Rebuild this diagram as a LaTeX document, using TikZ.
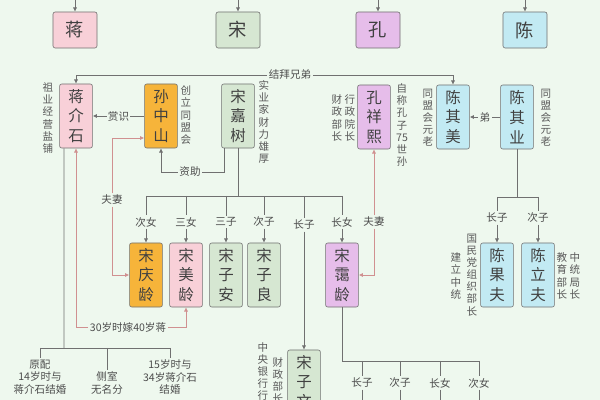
\documentclass[tikz,border=0pt]{standalone}
\usepackage{fontspec}
\setmainfont{Noto Sans CJK SC}
\usetikzlibrary{arrows.meta}

\definecolor{bg}{HTML}{EEF8EE}
\definecolor{cpink}{HTML}{F8D0D8}
\definecolor{cgreen}{HTML}{D6E7D2}
\definecolor{cpurple}{HTML}{E6BDEA}
\definecolor{ccyan}{HTML}{C2EAF3}
\definecolor{corange}{HTML}{F6B43A}
\definecolor{cline}{HTML}{707070}
\definecolor{cred}{HTML}{D09090}

\tikzset{
    box/.style={draw=cline, rounded corners=1.5pt, minimum width=0.82cm, minimum height=1.6cm,
        inner sep=0pt, align=center, font=\fontsize{11}{14}\selectfont, text=black!75},
    topbox/.style={box, minimum width=1.1cm, minimum height=0.9cm, font=\fontsize{13}{14}\selectfont},
    lbl/.style={fill=bg, inner sep=1pt, font=\fontsize{7.5}{9}\selectfont, text=black!70, align=center},
    side/.style={inner sep=0pt, font=\fontsize{7.5}{8.6}\selectfont, text=black!65, align=center},
    line/.style={draw=cline, line width=0.6pt},
    arr/.style={line, -{Latex[length=3pt,width=3pt]}},
    parr/.style={draw=cred, line width=0.6pt, -{Latex[length=3pt,width=3pt]}},
}

\begin{document}
\begin{tikzpicture}[x=0.025cm, y=-0.025cm]
    \clip (0,0) rectangle (600,400);
    \fill [bg] (0,0) rectangle (600,400);

    % surnames
    \node [topbox, fill=cpink] (jiang) at (75,30) {蒋};
    \node [topbox, fill=cgreen] (song) at (238,30) {宋};
    \node [topbox, fill=cpurple] (kong) at (378,30) {孔};
    \node [topbox, fill=ccyan] (chen) at (525,30) {陈};
    \foreach \n in {jiang, song, kong, chen}{%
        \draw [arr] (\n.north |- 0,0) -- (\n.north);
    }

    % second row
    \node [box, fill=cpink] (jjs) at (76,116) {蒋\\介\\石};
    \node [box, fill=corange] (szs) at (161,116) {孙\\中\\山};
    \node [box, fill=cgreen] (sjs) at (238,116) {宋\\嘉\\树};
    \node [box, fill=cpurple] (kxx) at (374,117) {孔\\祥\\熙};
    \node [box, fill=ccyan] (cqm) at (453,117) {陈\\其\\美};
    \node [box, fill=ccyan] (cqy) at (517,117) {陈\\其\\业};

    \node [side] (t1) at (48,118) {祖\\业\\经\\营\\盐\\铺};
    \node [side] (t2) at (186,115) {创\\立\\同\\盟\\会};
    \node [side] (t3) at (264,122) {实\\业\\家\\财\\力\\雄\\厚};
    \node [side] (t4) at (350,118) {行\\政\\院\\长};
    \node [side] (t5) at (337,118) {财\\政\\部\\长};
    \node [side] (t6) at (402,125) {自\\称\\孔\\子\\75\\世\\孙};
    \node [side] (t7) at (428,118) {同\\盟\\会\\元\\老};
    \node [side] (t8) at (546,118) {同\\盟\\会\\元\\老};

    % links between the second row
    \node [lbl] (jb) at (290,75) {结拜兄弟};
    \draw [arr] (jb.west) -| (jjs.north);
    \draw [arr] (jb.east) -| (cqm.north);
    \draw [arr] (szs.west) -- (jjs.east) node [lbl, midway] {赏识};
    \draw [arr] (cqy.west) -- (cqm.east) node [lbl, midway] {弟};
    \node [lbl] (zz) at (190,172) {资助};
    \draw [line] ([xshift=-0.35cm]sjs.south) |- (zz.east);
    \draw [arr] (zz.west) -| (szs.south);

    % Song children
    \node [box, fill=corange] (sql) at (146,275) {宋\\庆\\龄};
    \node [box, fill=cpink] (sml) at (186,275) {宋\\美\\龄};
    \node [box, fill=cgreen] (sza) at (226,275) {宋\\子\\安};
    \node [box, fill=cgreen] (szl) at (264,275) {宋\\子\\良};
    \node [box, fill=cpurple] (sal) at (342,275) {宋\\霭\\龄};
    \node [box, fill=cgreen] (szw) at (304,382) {宋\\子\\文};
    \coordinate (sb) at (238,196);
    \draw [line] (sjs.south) -- (sb);
    \draw [line] (sql.north |- sb) -- (sal.north |- sb);
    \foreach \b/\t in {sql/次女, sml/三女, sza/三子, szl/次子, sal/长女}{%
        \node [lbl] (l\b) at (\b.north |- 0,222) {\t};
        \draw [line] (\b.north |- sb) -- (l\b.north);
        \draw [arr] (l\b.south) -- (\b.north);
    }
    \node [lbl] (lszw) at (304,225) {长子};
    \draw [line] (szw.north |- sb) -- (lszw.north);
    \draw [arr] (lszw.south) -- (szw.north);
    \node [side, anchor=north] (t9) at (263,342) {中\\央\\银\\行\\行\\长};
    \node [side, anchor=north] (t10) at (278,357) {财\\政\\部\\长};

    % marriages
    \node [lbl] (fq1) at (112,200) {夫妻};
    \draw [parr] (fq1.south) |- (sql.west);
    \draw [parr] (fq1.north) |- ([yshift=-0.55cm]szs.west);
    \node [lbl] (fq2) at (374,222) {夫妻};
    \draw [parr] (fq2.north) -- (kxx.south);
    \draw [parr] (fq2.south) |- (sal.east);
    \node [lbl] (jia) at (128,327) {30岁时嫁40岁蒋};
    \draw [parr] (jia.east) -| (sml.south);
    \draw [parr] (jia.west) -| (jjs.south);

    % Jiang wives
    \coordinate (jb2) at (64,348);
    \draw [line] ([xshift=-0.3cm]jjs.south) -- (jb2);
    \draw [line] (40,348) -- (170,348);
    \node [lbl, anchor=north] (w1) at (40,358) {原配\\14岁时与\\蒋介石结婚};
    \node [lbl, anchor=north] (w2) at (107,370) {侧室\\无名分};
    \node [lbl, anchor=north] (w3) at (170,358) {15岁时与\\34岁蒋介石\\结婚};
    \foreach \w in {w1, w2, w3}{%
        \draw [line] (\w.north |- jb2) -- (\w.north);
    }

    % Kong children
    \coordinate (kb) at (342,361);
    \draw [line] (sal.south) -- (kb);
    \draw [line] (kb) -- (479,361);
    \foreach \x/\t [count=\i] in {362/长子, 400/次子, 440/长女, 479/次女}{%
        \node [lbl] (k\i) at (\x,383) {\t};
        \draw [line] (\x,361) -- (k\i.north);
        \draw [line] (k\i.south) -- (\x,410);
    }

    % Chen children
    \node [box, fill=ccyan] (cgf) at (497,275) {陈\\果\\夫};
    \node [box, fill=ccyan] (clf) at (538,275) {陈\\立\\夫};
    \coordinate (cb) at (517,197);
    \draw [line] (cqy.south) -- (cb);
    \draw [line] (cgf.north |- cb) -- (clf.north |- cb);
    \foreach \b/\t in {cgf/长子, clf/次子}{%
        \node [lbl] (l\b) at (\b.north |- 0,218) {\t};
        \draw [line] (\b.north |- cb) -- (l\b.north);
        \draw [arr] (l\b.south) -- (\b.north);
    }
    \node [side] (t11) at (472,275) {国\\民\\党\\组\\织\\部\\长};
    \node [side] (t12) at (456,276) {建\\立\\中\\统};
    \node [side] (t13) at (562,276) {教\\育\\部\\长};
    \node [side] (t14) at (575,276) {中\\统\\局\\长};
\end{tikzpicture}
\end{document}
